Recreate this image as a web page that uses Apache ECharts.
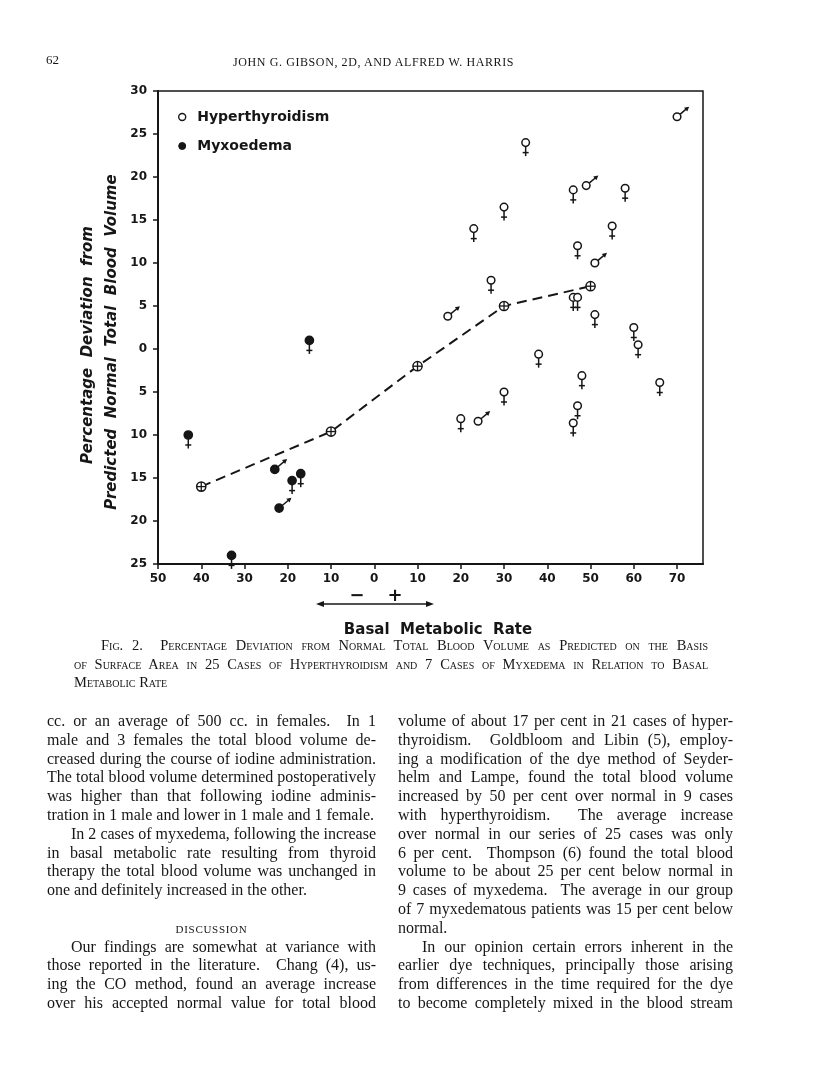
<!DOCTYPE html>
<html><head><meta charset="utf-8">
<script src="https://cdn.jsdelivr.net/npm/echarts@6/dist/echarts.min.js"></script>
<style>
html,body{margin:0;padding:0;background:#fff;}
#page{position:relative;width:816px;height:1078px;overflow:hidden;background:#fff;}
#chart{position:absolute;left:0;top:0;width:816px;height:1078px;}
.t{position:absolute;font-family:"Liberation Serif","Times New Roman",serif;color:#161616;white-space:nowrap;line-height:20px;}
.col{position:absolute;font-family:"Liberation Serif","Times New Roman",serif;font-size:16px;line-height:18.8px;color:#161616;}
.col div{white-space:nowrap;text-align:justify;text-align-last:justify;height:18.8px;}
.col div.last{text-align-last:left;}
.col div.ind{padding-left:24px;}
.col div.head{text-align:center;text-align-last:center;font-variant:small-caps;letter-spacing:0.7px;}
.cap{position:absolute;font-family:"Liberation Serif","Times New Roman",serif;font-size:14.5px;line-height:18.6px;color:#161616;font-variant:small-caps;}
.cap div{white-space:nowrap;text-align:justify;text-align-last:justify;height:18.6px;}
.cap div.last{text-align-last:left;}
</style></head><body>
<div id="page">
<div id="chart"></div>
<div class="t" style="left:46px;top:50px;font-size:13px;">62</div>
<div class="t" style="left:233px;top:52px;font-size:12px;letter-spacing:0.6px;">JOHN G. GIBSON, 2D, AND ALFRED W. HARRIS</div>
<div class="cap" style="left:74px;top:636px;width:634px;">
  <div style="padding-left:27px;">Fig. 2.&nbsp; Percentage Deviation from Normal Total Blood Volume as Predicted on the Basis</div>
  <div>of Surface Area in 25 Cases of Hyperthyroidism and 7 Cases of Myxedema in Relation to Basal</div>
  <div class="last">Metabolic Rate</div>
</div>
<div class="col" style="left:47px;top:712px;width:329px;">
  <div>cc. or an average of 500 cc. in females.&nbsp; In 1</div>
  <div>male and 3 females the total blood volume de-</div>
  <div>creased during the course of iodine administration.</div>
  <div>The total blood volume determined postoperatively</div>
  <div>was higher than that following iodine adminis-</div>
  <div class="last">tration in 1 male and lower in 1 male and 1 female.</div>
  <div class="ind">In 2 cases of myxedema, following the increase</div>
  <div>in basal metabolic rate resulting from thyroid</div>
  <div>therapy the total blood volume was unchanged in</div>
  <div class="last">one and definitely increased in the other.</div>
  <div class="last"></div>
  <div class="head">discussion</div>
  <div class="ind">Our findings are somewhat at variance with</div>
  <div>those reported in the literature.&nbsp; Chang (4), us-</div>
  <div>ing the CO method, found an average increase</div>
  <div>over his accepted normal value for total blood</div>
</div>
<div class="col" style="left:398px;top:712px;width:335px;">
  <div>volume of about 17 per cent in 21 cases of hyper-</div>
  <div>thyroidism.&nbsp; Goldbloom and Libin (5), employ-</div>
  <div>ing a modification of the dye method of Seyder-</div>
  <div>helm and Lampe, found the total blood volume</div>
  <div>increased by 50 per cent over normal in 9 cases</div>
  <div>with hyperthyroidism.&nbsp; The average increase</div>
  <div>over normal in our series of 25 cases was only</div>
  <div>6 per cent.&nbsp; Thompson (6) found the total blood</div>
  <div>volume to be about 25 per cent below normal in</div>
  <div>9 cases of myxedema.&nbsp; The average in our group</div>
  <div>of 7 myxedematous patients was 15 per cent below</div>
  <div class="last">normal.</div>
  <div class="ind">In our opinion certain errors inherent in the</div>
  <div>earlier dye techniques, principally those arising</div>
  <div>from differences in the time required for the dye</div>
  <div>to become completely mixed in the blood stream</div>
</div>
</div>
<script>
// ---- data ----
const hyperX   = [70, 35, 46, 49, 58, 30, 23, 55, 47, 51, 27, 46, 47, 17, 51, 60, 61, 38, 48, 66, 30, 47, 20, 24, 46];
const hyperY   = [27, 24, 18.5, 19, 18.7, 16.5, 14, 14.3, 12, 10, 8, 6, 6, 3.8, 4, 2.5, 0.5, -0.6, -3.1, -3.9, -5, -6.6, -8.1, -8.4, -8.6];
const hyperSex = ['M','F','F','M','F','F','F','F','F','M','F','F','F','M','F','F','F','F','F','F','F','F','F','M','F'];
const myxX   = [-15, -43, -23, -19, -17, -22, -33];
const myxY   = [1, -10, -14, -15.3, -14.5, -18.5, -24];
const myxSex = ['F','F','M','F','F','M','F'];
const meanX = [-40, -10, 10, 30, 50];
const meanY = [-16, -9.6, -2, 5, 7.3];
const seriesNames = ['Hyperthyroidism', 'Myxoedema'];
const xTitle = 'Basal  Metabolic  Rate';
const yTitle1 = 'Percentage  Deviation  from';
const yTitle2 = 'Predicted  Normal  Total  Blood  Volume';

const INK = '#161616';
const zip = (a, b) => a.map((v, i) => [v, b[i]]);

function makeRender(sexArr, filled) {
  return function (params, api) {
    const p = api.coord([api.value(0), api.value(1)]);
    const cx = p[0], cy = p[1];
    const r = filled ? 4.1 : 3.8;
    const st = {stroke: INK, lineWidth: 1.5, fill: null};
    const kids = [];
    if (sexArr[params.dataIndex] === 'F') {
      kids.push({type: 'line', shape: {x1: cx, y1: cy + r, x2: cx, y2: cy + 13.5}, style: st});
      kids.push({type: 'line', shape: {x1: cx - 3, y1: cy + 10, x2: cx + 3, y2: cy + 10}, style: st});
    } else {
      const ang = -40 * Math.PI / 180;
      const ux = Math.cos(ang), uy = Math.sin(ang);
      const sx = cx + ux * r, sy = cy + uy * r;
      const ex = cx + ux * (r + 12), ey = cy + uy * (r + 12);
      kids.push({type: 'line', shape: {x1: sx, y1: sy, x2: ex - ux * 2, y2: ey - uy * 2}, style: st});
      const hl = 4.6, hw = 2.5;
      const bx = ex - ux * hl, by = ey - uy * hl;
      const px = -uy, py = ux;
      kids.push({type: 'polygon', shape: {points: [[ex, ey], [bx + px * hw, by + py * hw], [bx - px * hw, by - py * hw]]}, style: {fill: INK}});
    }
    kids.push({type: 'circle', shape: {cx: cx, cy: cy, r: r}, style: {fill: filled ? INK : '#fff', stroke: INK, lineWidth: 1.5}});
    return {type: 'group', children: kids};
  };
}

function renderMean(params, api) {
  const p = api.coord([api.value(0), api.value(1)]);
  const cx = p[0], cy = p[1], r = 4.6;
  const st = {stroke: INK, lineWidth: 1.3};
  return {type: 'group', children: [
    {type: 'circle', shape: {cx: cx, cy: cy, r: r}, style: {fill: '#fff', stroke: INK, lineWidth: 1.5}},
    {type: 'line', shape: {x1: cx - r, y1: cy, x2: cx + r, y2: cy}, style: st},
    {type: 'line', shape: {x1: cx, y1: cy - r, x2: cx, y2: cy + r}, style: st}
  ]};
}

const tickFont = {fontFamily: 'DejaVu Sans', fontWeight: 'bold', fontSize: 12, color: INK};
const chart = echarts.init(document.getElementById('chart'), null, {renderer: 'canvas'});
chart.setOption({
  animation: false,
  backgroundColor: 'transparent',
  grid: {left: 158, right: 113, top: 91, bottom: 514, show: true, borderColor: INK, borderWidth: 1.5, backgroundColor: 'transparent'},
  xAxis: {
    type: 'value', min: -50, max: 76, interval: 10,
    axisLine: {onZero: false, lineStyle: {color: INK, width: 2}},
    axisTick: {length: 5, lineStyle: {color: INK, width: 1.5}},
    splitLine: {show: false},
    axisLabel: Object.assign({margin: 9, showMaxLabel: false, formatter: v => (v % 10 === 0 ? String(Math.abs(v)) : '')}, tickFont)
  },
  yAxis: {
    type: 'value', min: -25, max: 30, interval: 5,
    axisLine: {onZero: false, lineStyle: {color: INK, width: 2}},
    axisTick: {length: 5, lineStyle: {color: INK, width: 1.5}},
    splitLine: {show: false},
    axisLabel: Object.assign({margin: 11, formatter: v => String(Math.abs(v))}, tickFont)
  },
  legend: {
    orient: 'vertical', left: 178, top: 108, padding: 0,
    itemWidth: 20, itemHeight: 7, itemGap: 11, selectedMode: false,
    textStyle: {fontFamily: 'DejaVu Sans', fontWeight: 'bold', fontSize: 14, color: INK, lineHeight: 18},
    data: [
      {name: seriesNames[0], icon: 'circle', itemStyle: {color: '#fff', borderColor: INK, borderWidth: 1.4}},
      {name: seriesNames[1], icon: 'circle', itemStyle: {color: INK, borderColor: INK, borderWidth: 1}}
    ]
  },
  series: [
    {type: 'line', name: 'Mean', data: zip(meanX, meanY), symbol: 'none', z: 1,
     lineStyle: {color: INK, width: 2, type: [10, 6]}},
    {type: 'custom', name: 'MeanPts', data: zip(meanX, meanY), renderItem: renderMean, z: 3},
    {type: 'custom', name: seriesNames[0], data: zip(hyperX, hyperY), renderItem: makeRender(hyperSex, false), z: 4, itemStyle: {color: '#fff', borderColor: INK}},
    {type: 'custom', name: seriesNames[1], data: zip(myxX, myxY), renderItem: makeRender(myxSex, true), z: 4, itemStyle: {color: INK}}
  ],
  graphic: [
    {type: 'text', x: 88, y: 345, rotation: Math.PI / 2,
     style: {text: yTitle1, font: 'italic bold 15px "DejaVu Sans"', fill: INK, align: 'center', verticalAlign: 'middle'}},
    {type: 'text', x: 112, y: 342, rotation: Math.PI / 2,
     style: {text: yTitle2, font: 'italic bold 15px "DejaVu Sans"', fill: INK, align: 'center', verticalAlign: 'middle'}},
    {type: 'text', x: 438, y: 630,
     style: {text: xTitle, font: 'bold 15px "DejaVu Sans"', fill: INK, align: 'center', verticalAlign: 'middle'}},
    {type: 'line', shape: {x1: 320, y1: 604, x2: 430, y2: 604}, style: {stroke: INK, lineWidth: 1.4}},
    {type: 'polygon', shape: {points: [[316, 604], [324, 601], [324, 607]]}, style: {fill: INK}},
    {type: 'polygon', shape: {points: [[434, 604], [426, 601], [426, 607]]}, style: {fill: INK}},
    {type: 'text', x: 357, y: 596, style: {text: '−', font: 'bold 18px "DejaVu Sans"', fill: INK, align: 'center', verticalAlign: 'middle'}},
    {type: 'text', x: 395, y: 596, style: {text: '+', font: 'bold 18px "DejaVu Sans"', fill: INK, align: 'center', verticalAlign: 'middle'}}
  ]
});
</script>
</body></html>
